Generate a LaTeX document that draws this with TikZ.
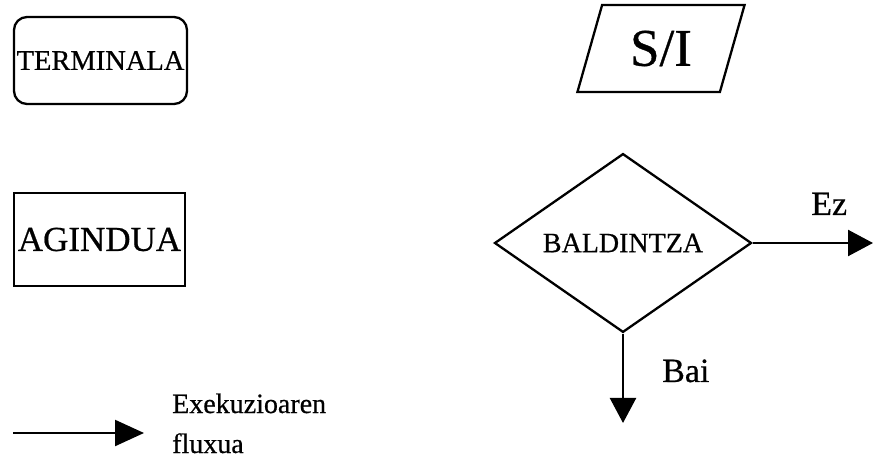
\documentclass[tikz,border=0pt]{standalone}
\usepackage{fontspec}
\setmainfont{Liberation Serif}
\newfontfamily\darkserif[FakeBold=0.6]{Liberation Serif}
\usetikzlibrary{shapes.geometric,arrows.meta}
\begin{document}
\begin{tikzpicture}[x=1bp,y=-1bp,
  outline/.style={draw=black, line width=2.3bp, inner sep=0pt},
  flow/.style={line width=2.3bp, -{Triangle[length=25bp,width=26bp]}},
  lbl/.style={inner sep=0pt, anchor=base west}]
\useasboundingbox (0,0) rectangle (874,459);
\node[outline, rounded corners=13bp, minimum width=173bp, minimum height=87bp,
      font=\darkserif\fontsize{28.5bp}{30bp}\selectfont] (term) at (100.5,60.5) {TERMINALA};
\node[outline, minimum width=171bp, minimum height=93bp,
      font=\darkserif\fontsize{35bp}{36bp}\selectfont] (cmd) at (99.5,239.5) {AGINDUA};
\node[outline, trapezium, trapezium left angle=70, trapezium right angle=110,
      trapezium stretches=true, minimum width=168bp, minimum height=87bp,
      font=\darkserif\fontsize{53bp}{54bp}\selectfont] (si) at (661,48.5) {S/I};
\node[outline, diamond, minimum width=257bp, minimum height=160bp,
      font=\darkserif\fontsize{28bp}{30bp}\selectfont] (cond) at (623,243) {BALDINTZA};
\coordinate (ezend) at (873,243);
\coordinate (baiend) at (623,423);
\draw[flow] (cond.east) -- (ezend);
\draw[flow] (cond.south) -- (baiend);
\node[lbl, font=\darkserif\fontsize{34bp}{35bp}\selectfont] (ez) at (811,215) {Ez};
\node[lbl, font=\darkserif\fontsize{34bp}{35bp}\selectfont] (bai) at (662,382) {Bai};
\coordinate (fa) at (13,433);
\coordinate (fb) at (144,433);
\draw[line width=2.3bp, -{Triangle[length=29bp,width=26bp]}] (fa) -- (fb);
\node[lbl, font=\darkserif\fontsize{28bp}{29bp}\selectfont] (exe) at (172,413) {Exekuzioaren};
\node[lbl, font=\darkserif\fontsize{28bp}{29bp}\selectfont] (flux) at (172,453) {fluxua};
\end{tikzpicture}
\end{document}
